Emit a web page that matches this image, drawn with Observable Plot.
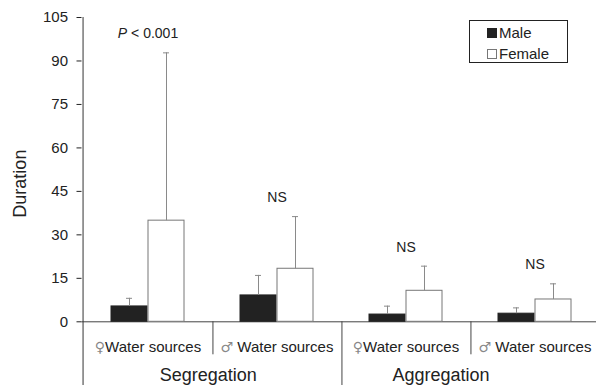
<!DOCTYPE html>
<html>
<head>
<meta charset="utf-8">
<script src="https://cdn.jsdelivr.net/npm/d3@7"></script>
<script src="https://cdn.jsdelivr.net/npm/@observablehq/plot@0.6"></script>
<style>
  html, body { margin: 0; padding: 0; background: #fff; }
  #wrap { position: relative; width: 596px; height: 385px; font-family: "Liberation Sans", Arial, sans-serif; color: #222; }
  #legend { position: absolute; left: 469px; top: 20px; width: 97px; height: 41px; border: 1.5px solid #222; font-size: 15px; }
  .row { position: absolute; left: 17px; display: flex; align-items: center; }
  .sw { width: 8px; height: 8px; margin-right: 2px; }
</style>
</head>
<body>
<div id="wrap">
  <div id="legend">
    <div class="row" style="top:3px"><div class="sw" style="background:#222;border:1px solid #222"></div><span>Male</span></div>
    <div class="row" style="top:24px"><div class="sw" style="background:#fff;border:1px solid #777"></div><span>Female</span></div>
  </div>
</div>
<script>
const categories = ["seg-f", "seg-m", "agg-f", "agg-m"];
const catLabels = ["♀Water sources", "♂ Water sources", "♀Water sources", "♂ Water sources"];
const groups = ["Segregation", "Aggregation"];
const maleMean = [5.3, 9.1, 2.5, 2.8];
const maleUpper = [8.1, 16.0, 5.4, 4.8];
const femaleMean = [34.9, 18.3, 10.7, 7.7];
const femaleUpper = [92.8, 36.3, 19.2, 13.1];
const notes = ["P < 0.001", "NS", "NS", "NS"];
const yTicks = [0, 15, 30, 45, 60, 75, 90, 105];

const data = categories.map((c, i) => ({
  cat: c, label: catLabels[i],
  male: maleMean[i], maleUp: maleUpper[i],
  female: femaleMean[i], femaleUp: femaleUpper[i],
  note: notes[i]
}));

const errColor = "#8a8a8a";
const chart = Plot.plot({
  width: 596, height: 385,
  marginLeft: 81.5, marginRight: 0, marginTop: 17, marginBottom: 63.7,
  style: {fontFamily: "'Liberation Sans', Arial, sans-serif", fontSize: "15px", color: "#222", background: "transparent"},
  x: {domain: categories, range: [81.5, 601], padding: 0, axis: null},
  y: {domain: [0, 105], ticks: yTicks, tickSize: 5, tickPadding: 9, label: null},
  marks: [
    Plot.ruleY([0], {stroke: "#444"}),
    Plot.barY(data, {x: "cat", y: "male", fill: "#222", stroke: "#222", insetLeft: 28, insetRight: 65}),
    Plot.barY(data, {x: "cat", y: "female", fill: "#fff", stroke: "#777", insetLeft: 65, insetRight: 28}),
    Plot.ruleX(data, {x: "cat", y1: "male", y2: "maleUp", dx: -18.5, stroke: errColor}),
    Plot.tickY(data, {x: "cat", y: "maleUp", dx: -18.5, insetLeft: 61.5, insetRight: 61.5, stroke: errColor}),
    Plot.ruleX(data, {x: "cat", y1: "female", y2: "femaleUp", dx: 18.5, stroke: errColor}),
    Plot.tickY(data, {x: "cat", y: "femaleUp", dx: 18.5, insetLeft: 61.5, insetRight: 61.5, stroke: errColor}),
    Plot.text(data, {x: "cat", y: "femaleUp", text: "note", dy: -14.5, lineAnchor: "bottom", fontSize: 14, fill: "#222"}),
    // left axis line, extended downward through the label area
    Plot.ruleX([categories[0]], {x: d => d, y1: 105, y2: 0, dx: -64.95, insetBottom: -64, stroke: "#333"}),
    // short separators between sub-categories
    Plot.ruleX([categories[0], categories[2]], {x: d => d, y1: 0, y2: 0, dx: 64.95, insetBottom: -33, stroke: "#444"}),
    // long separator between groups
    Plot.ruleX([categories[1]], {x: d => d, y1: 0, y2: 0, dx: 64.95, insetBottom: -64, stroke: "#444"}),
    Plot.text(data, {x: "cat", text: "label", frameAnchor: "bottom", dy: 25, lineAnchor: "middle", fontSize: 15, fill: "#222"}),
    Plot.text([groups[0]], {x: () => categories[1], text: d => d, frameAnchor: "bottom", dy: 53, dx: -68.7, lineAnchor: "middle", fontSize: 18, fill: "#222"}),
    Plot.text([groups[1]], {x: () => categories[3], text: d => d, frameAnchor: "bottom", dy: 53, dx: -94, lineAnchor: "middle", fontSize: 18, fill: "#222"}),
    Plot.text(["Duration"], {text: d => d, frameAnchor: "left", rotate: -90, dx: -62, dy: 48, fontSize: 18, fill: "#222"})
  ]
});
chart.style.position = "absolute";
chart.style.left = "0px";
chart.style.top = "0px";
document.getElementById("wrap").prepend(chart);
chart.querySelectorAll("text").forEach(t => {
  const s = t.textContent;
  if (s === "P < 0.001") {
    t.innerHTML = '<tspan font-style="italic">P</tspan> &lt; 0.001';
  } else if (s.startsWith("♀") || s.startsWith("♂")) {
    const sym = s[0], rest = s.slice(1);
    t.textContent = "";
    const a = document.createElementNS("http://www.w3.org/2000/svg", "tspan");
    a.setAttribute("font-family", "DejaVu Sans");
    a.setAttribute("font-size", "14");
    a.setAttribute("fill", "#888");
    a.textContent = sym;
    const b = document.createElementNS("http://www.w3.org/2000/svg", "tspan");
    b.textContent = rest;
    t.append(a, b);
  }
});
</script>
</body>
</html>
